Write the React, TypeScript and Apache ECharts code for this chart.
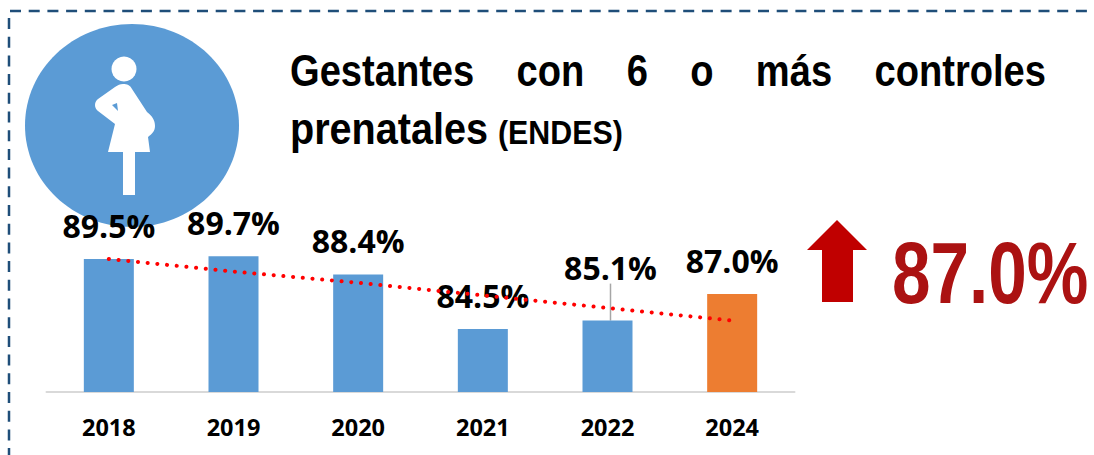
import React, { useEffect, useRef } from "react";
import * as echarts from "echarts";

const categories = ["2018", "2019", "2020", "2021", "2022", "2024"];
const coverage = [89.5, 89.7, 88.4, 84.5, 85.1, 87.0];
const trend = [89.5, 88.6, 87.8, 86.9, 86.0, 85.1];
const highlightYear = "2024";
const movedLabelYear = "2022";
const titleLine1 = "Gestantes    con    6    o    más    controles";
const titleLine2 = "prenatales";
const titleNote = "(ENDES)";
const headline = "87.0%";

const BODY =
  "M123 84 C127 84 130 85 132 89 L147 112 C152 116 155 120 155 126 C155 131 152 134 148 137 L150 152 L135 152 L135 195 L123 195 L123 152 L108 152 L115 124 L98 111 C94 108 94 102 98 99 L115 87 C118 85 120 84 123 84 Z";
const ARROW = "M837 220 L867 250 L853 250 L853 302 L822 302 L822 250 L807 250 Z";

export default function App() {
  const ref = useRef<HTMLDivElement>(null);
  useEffect(() => {
    if (!ref.current) return;
    echarts.graphic.registerShape("pregnantBody", echarts.graphic.extendPath(BODY, {}));
    echarts.graphic.registerShape("upArrow", echarts.graphic.extendPath(ARROW, {}));
    const chart = echarts.init(ref.current, undefined, { renderer: "svg" });
    const border = { stroke: "#1F4E79", lineWidth: 2.5, lineDash: [11, 7.7] };
    chart.setOption({
      animation: false,
      backgroundColor: "#ffffff",
      grid: { left: 46.5, right: 299.5, top: 112, bottom: 63 },
      xAxis: {
        type: "category",
        data: categories,
        axisTick: { show: false },
        axisLine: { lineStyle: { color: "#D9D9D9", width: 2 } },
        axisLabel: {
          color: "#000000",
          fontFamily: "Open Sans",
          fontWeight: "bold",
          fontSize: 23.5,
          margin: 23,
        },
      },
      yAxis: { type: "value", min: 80, max: 100, show: false, splitLine: { show: false } },
      series: [
        {
          type: "bar",
          data: coverage.map((value, i) => ({
            value,
            itemStyle: { color: categories[i] === highlightYear ? "#ED7D31" : "#5B9BD5" },
            labelLine: { show: categories[i] === movedLabelYear },
          })),
          barWidth: 50,
          label: {
            show: true,
            position: "top",
            distance: 18,
            color: "#000000",
            fontFamily: "Open Sans",
            fontWeight: "bold",
            fontSize: 32,
            formatter: (p: any) => `${Number(p.value).toFixed(1)}%`,
          },
          labelLine: { lineStyle: { color: "#A6A6A6", width: 1.5 } },
          labelLayout: (p: any) =>
            categories[p.dataIndex] === movedLabelYear ? { dx: 3, dy: -19 } : {},
        },
        {
          type: "line",
          data: trend,
          symbol: "none",
          silent: true,
          z: 3,
          lineStyle: { color: "#FF0000", width: 4, type: [0.1, 9.64], cap: "round" },
        },
      ],
      graphic: [
        { type: "line", z: 0, shape: { x1: 10, y1: 11, x2: 1094, y2: 11 }, style: border },
        { type: "line", z: 0, shape: { x1: 9, y1: 18, x2: 9, y2: 455 }, style: border },
        { type: "ellipse", z: 0, shape: { cx: 132, cy: 125.5, rx: 107, ry: 101.5 }, style: { fill: "#5B9BD5" } },
        { type: "circle", z: 1, shape: { cx: 124, cy: 69, r: 12.5 }, style: { fill: "#ffffff" } },
        { type: "pregnantBody", z: 1, x: 0, y: 0, style: { fill: "#ffffff" } },
        {
          type: "polygon",
          z: 1,
          shape: { points: [[112, 105], [117, 103], [118, 111]] },
          style: { fill: "#5B9BD5" },
        },
        {
          type: "text",
          z: 1,
          x: 290,
          y: 48,
          scaleX: 0.847,
          style: {
            text: titleLine1,
            fill: "#000000",
            font: 'bold 45px "Liberation Sans"',
            textVerticalAlign: "top",
          },
        },
        {
          type: "text",
          z: 1,
          x: 290,
          y: 106,
          scaleX: 0.88,
          style: {
            text: titleLine2,
            fill: "#000000",
            font: 'bold 45px "Liberation Sans"',
            textVerticalAlign: "top",
          },
        },
        {
          type: "text",
          z: 1,
          x: 498,
          y: 116,
          scaleX: 0.92,
          style: {
            text: titleNote,
            fill: "#000000",
            font: 'bold 33px "Liberation Sans"',
            textVerticalAlign: "top",
          },
        },
        { type: "upArrow", z: 1, x: 0, y: 0, style: { fill: "#C00000" } },
        {
          type: "text",
          z: 1,
          x: 892,
          y: 228,
          scaleX: 0.787,
          style: {
            text: headline,
            fill: "#AB1212",
            font: 'bold 88px "Liberation Sans"',
            textVerticalAlign: "top",
          },
        },
      ],
    });
    return () => chart.dispose();
  }, []);
  return (
    <div
      ref={ref}
      style={{ position: "fixed", left: 0, top: 0, width: 1094, height: 455 }}
    />
  );
}
